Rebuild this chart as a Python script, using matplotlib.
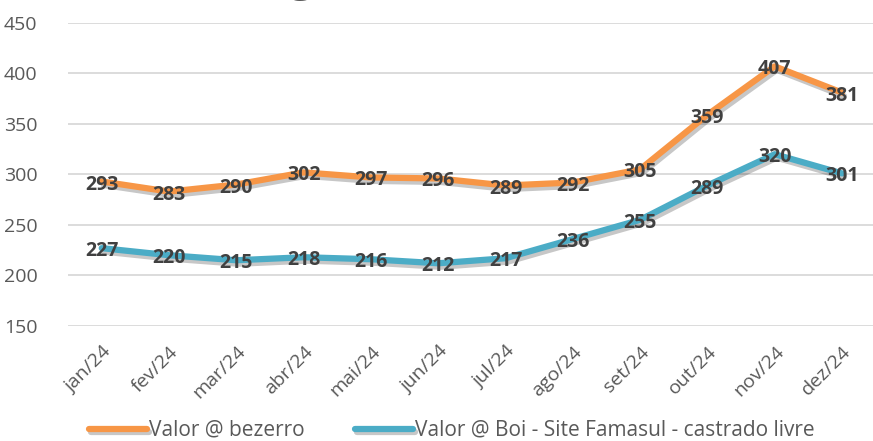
import matplotlib.pyplot as plt
import matplotlib.patheffects as pe

months = ["jan/24", "fev/24", "mar/24", "abr/24", "mai/24", "jun/24",
          "jul/24", "ago/24", "set/24", "out/24", "nov/24", "dez/24"]
bezerro = [293, 283, 290, 302, 297, 296, 289, 292, 305, 359, 407, 381]
boi = [227, 220, 215, 218, 216, 212, 217, 236, 255, 289, 320, 301]

orange = "#F79646"
blue = "#4BACC6"
label_color = "#404040"
tick_color = "#595959"

plt.rcParams["font.family"] = ["Open Sans", "DejaVu Sans"]

fig = plt.figure(figsize=(8.73, 4.41), dpi=100)
ax = fig.add_axes([0.078, 0.261, 0.925, 0.687])

shadow = [pe.SimpleLineShadow(offset=(1.5, -2.5), shadow_color="black", alpha=0.22),
          pe.Normal()]
x = list(range(len(months)))
ax.plot(x, bezerro, color=orange, lw=4.5, solid_capstyle="round",
        label="Valor @ bezerro", path_effects=shadow)
ax.plot(x, boi, color=blue, lw=4.5, solid_capstyle="round",
        label="Valor @ Boi - Site Famasul - castrado livre", path_effects=shadow)

for xi, v in zip(x, bezerro):
    ax.text(xi, v - 3, str(v), ha="center", va="center", fontsize=14,
            fontweight="bold", color=label_color)
for xi, v in zip(x, boi):
    ax.text(xi, v - 3, str(v), ha="center", va="center", fontsize=14,
            fontweight="bold", color=label_color)

ax.set_xlim(-0.5, len(months) - 0.5)
ax.set_ylim(150, 450)
ax.set_yticks(range(150, 451, 50))
ax.grid(axis="y", color="#D9D9D9", lw=1.3)
ax.set_axisbelow(True)
for s in ax.spines.values():
    s.set_visible(False)
ax.tick_params(length=0, labelsize=14, colors=tick_color)
ax.tick_params(axis="y", pad=22)
ax.set_xticks(x)
ax.set_xticklabels(months, rotation=45, ha="right", rotation_mode="anchor")
ax.tick_params(axis="x", pad=12)

# partly visible chart title at the top edge
fig.text(0.345, 1 + 9 / 441, "g", fontsize=30, fontweight="bold", color=tick_color,
         ha="center", va="baseline")

ax.legend(loc="center", bbox_to_anchor=(0.475, -0.345), ncol=2, frameon=False,
          fontsize=15, labelcolor=tick_color, handlelength=2.8, handletextpad=0.1,
          columnspacing=2.4)

fig.savefig("out.png", dpi=100)
